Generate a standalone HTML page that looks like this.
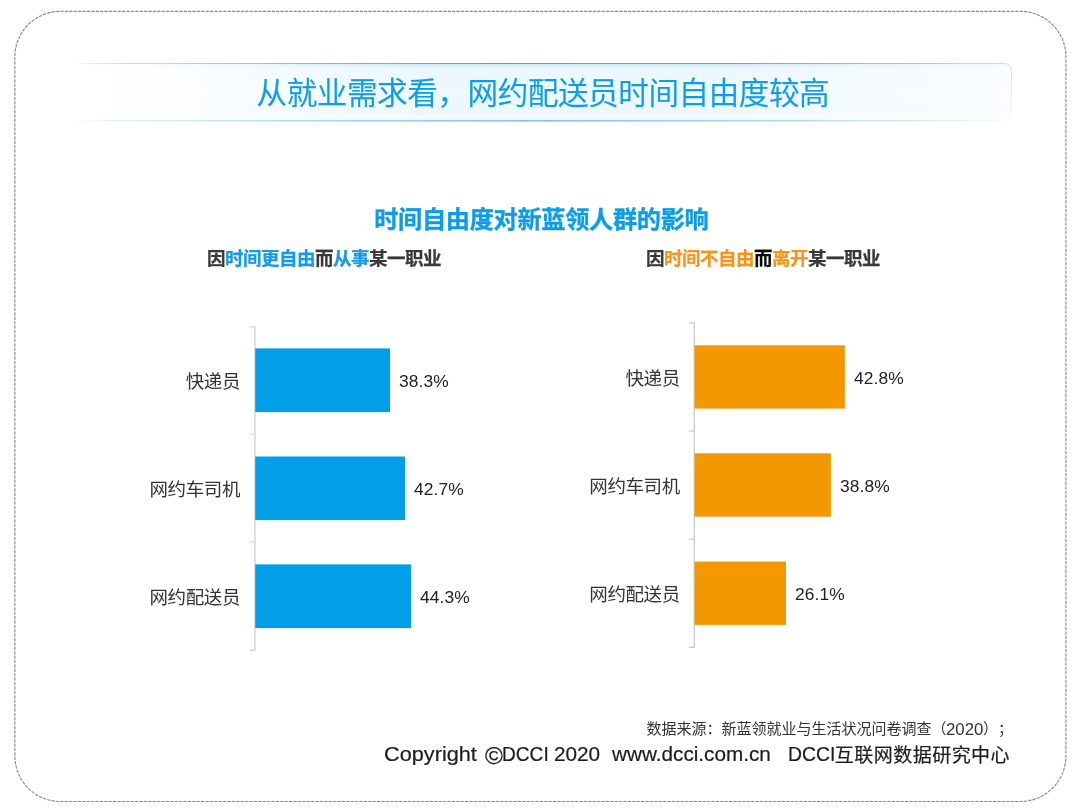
<!DOCTYPE html>
<html lang="zh-CN">
<head>
<meta charset="utf-8">
<title>从就业需求看，网约配送员时间自由度较高</title>
<style>
html,body{margin:0;padding:0;background:#fff;}
body{width:1080px;height:810px;position:relative;overflow:hidden;
  font-family:"Liberation Sans","Noto Sans CJK SC",sans-serif;color:#333;}
.abs{position:absolute;white-space:nowrap;}
#frame{position:absolute;left:0;top:0;}
#banner{position:absolute;left:72px;top:63px;width:940px;height:62px;}
#title{left:0;width:1085.8px;top:71px;text-align:center;font-size:30.6px;line-height:44px;
  letter-spacing:-0.45px;font-weight:350;color:#0c9de9;-webkit-text-stroke:0.25px #0c9de9;}
#ctitle{left:0;width:1082.6px;top:204px;text-align:center;font-size:24.2px;line-height:32px;
  letter-spacing:-0.32px;font-weight:700;color:#0c9ce9;-webkit-text-stroke:0.35px #0c9ce9;}
.sub{font-size:18.5px;line-height:26px;letter-spacing:-0.5px;font-weight:700;color:#383838;top:246px;-webkit-text-stroke:0.25px;}
.sub .b{color:#129be8;}
.sub .o{color:#f5961a;}
.sub .k{color:#0a0a0a;}
.lab{font-size:18.5px;line-height:26px;letter-spacing:-0.4px;text-align:right;width:120px;color:#333;margin-top:1.5px;}
.val{font-size:17.4px;line-height:22px;letter-spacing:0.12px;color:#222;margin-top:-0.3px;}
.sx{transform-origin:0 50%;}
.src{font-size:15px;line-height:40px;color:#333;top:709.2px;}
.cp{font-size:20.6px;line-height:40px;color:#1c1c1c;top:734.3px;-webkit-text-stroke:0.2px #1c1c1c;}
</style>
</head>
<body>
<svg id="frame" width="1080" height="810" viewBox="0 0 1080 810">
  <rect x="14.9" y="11.3" width="1051" height="790.2" rx="45.5" ry="45.5" fill="none" stroke="#8c8c8c" stroke-width="1.15" stroke-dasharray="3.3 1.1"/>
</svg>
<svg id="banner" width="940" height="62" viewBox="0 0 940 62">
  <defs>
    <linearGradient id="fade" x1="0" x2="1" y1="0" y2="0">
      <stop offset="0" stop-color="#fff" stop-opacity="1"/>
      <stop offset="0.1" stop-color="#fff" stop-opacity="0.85"/>
      <stop offset="0.2" stop-color="#fff" stop-opacity="0.55"/>
      <stop offset="0.32" stop-color="#fff" stop-opacity="0.15"/>
      <stop offset="0.42" stop-color="#fff" stop-opacity="0"/>
      <stop offset="0.68" stop-color="#fff" stop-opacity="0"/>
      <stop offset="0.82" stop-color="#fff" stop-opacity="0.4"/>
      <stop offset="1" stop-color="#fff" stop-opacity="0.75"/>
    </linearGradient>
    <linearGradient id="bg" x1="0" x2="0" y1="0" y2="1">
      <stop offset="0" stop-color="#cfe9f9"/>
      <stop offset="0.06" stop-color="#d8eefb"/>
      <stop offset="0.09" stop-color="#ebf6fe"/>
      <stop offset="0.5" stop-color="#eef8fe"/>
      <stop offset="0.86" stop-color="#ecf7fe"/>
      <stop offset="0.93" stop-color="#f5fbff"/>
      <stop offset="1" stop-color="#eaf6fd"/>
    </linearGradient>
    <linearGradient id="ltop" x1="0" x2="1" y1="0" y2="0">
      <stop offset="0" stop-color="#8e979d" stop-opacity="0"/>
      <stop offset="0.06" stop-color="#a9b6bf" stop-opacity="0.5"/>
      <stop offset="0.25" stop-color="#9aa6ae" stop-opacity="0.85"/>
      <stop offset="0.45" stop-color="#8a9196" stop-opacity="1"/>
      <stop offset="0.7" stop-color="#8f989e" stop-opacity="1"/>
      <stop offset="0.9" stop-color="#a9b6bf" stop-opacity="0.8"/>
      <stop offset="1" stop-color="#c5d0d8" stop-opacity="0.7"/>
    </linearGradient>
    <linearGradient id="lbot" x1="0" x2="1" y1="0" y2="0">
      <stop offset="0" stop-color="#9ad0e6" stop-opacity="0"/>
      <stop offset="0.08" stop-color="#b4dcec" stop-opacity="0.5"/>
      <stop offset="0.3" stop-color="#98cfe5" stop-opacity="0.9"/>
      <stop offset="0.5" stop-color="#86c5df" stop-opacity="1"/>
      <stop offset="0.75" stop-color="#a5d3e6" stop-opacity="0.9"/>
      <stop offset="0.92" stop-color="#cfdde4" stop-opacity="0.6"/>
      <stop offset="1" stop-color="#e0e6ea" stop-opacity="0.1"/>
    </linearGradient>
    <linearGradient id="lsh" x1="0" x2="1" y1="0" y2="0">
      <stop offset="0" stop-color="#c0c4c8" stop-opacity="0"/>
      <stop offset="0.3" stop-color="#c0c4c8" stop-opacity="0.5"/>
      <stop offset="0.5" stop-color="#b8bcc0" stop-opacity="0.7"/>
      <stop offset="0.8" stop-color="#c8ccd0" stop-opacity="0.4"/>
      <stop offset="1" stop-color="#c8ccd0" stop-opacity="0"/>
    </linearGradient>
    <linearGradient id="lright" x1="0" x2="0" y1="0" y2="1">
      <stop offset="0" stop-color="#c5d0d8" stop-opacity="0.7"/>
      <stop offset="0.6" stop-color="#d8e0e6" stop-opacity="0.5"/>
      <stop offset="1" stop-color="#e0e6ea" stop-opacity="0.1"/>
    </linearGradient>
  </defs>
  <path d="M0 0 H932 Q940 0 940 8 V50 Q940 58 932 58 H0 Z" fill="url(#bg)"/>
  <rect x="0" y="0" width="940" height="60" fill="url(#fade)"/>
  <rect x="0" y="58" width="932" height="1" fill="url(#lsh)"/>
  <rect x="0" y="57" width="932" height="1" fill="url(#lbot)"/>
  <rect x="0" y="0" width="932" height="1" fill="url(#ltop)"/>
  <path d="M932 0.5 Q939.5 0.5 939.5 8 V50 Q939.5 57.5 932 57.5" fill="none" stroke="url(#lright)" stroke-width="1"/>
</svg>
<div class="abs" id="title">从就业需求看，网约配送员时间自由度较高</div>
<div class="abs" id="ctitle">时间自由度对新蓝领人群的影响</div>

<div class="abs sub" style="left:207px;">因<span class="b">时间更自由</span>而<span class="b">从事</span>某一职业</div>
<div class="abs sub" style="left:646px;">因<span class="o">时间不自由</span><span class="k">而</span><span class="o">离开</span>某一职业</div>

<!-- charts -->
<svg class="abs" style="left:0;top:0" width="1080" height="810" viewBox="0 0 1080 810">
  <g fill="#d9d9d9">
    <rect x="254.15" y="326.2" width="1.6" height="324.6"/>
    <rect x="249.3" y="326.15" width="5" height="1.4"/>
    <rect x="249.3" y="433.6" width="5" height="1.2" fill="#dedede"/>
    <rect x="249.3" y="541.4" width="5" height="1.2" fill="#dedede"/>
    <rect x="249.3" y="649.7" width="5" height="1.1" fill="#c4c4c4"/>
  </g>
  <g fill="#c6c8cb">
    <rect x="693.65" y="322.3" width="1.3" height="325.5"/>
    <rect x="688.9" y="322.3" width="5" height="1.2"/>
    <rect x="688.9" y="430.4" width="5" height="1.2"/>
    <rect x="688.9" y="538.6" width="5" height="1.2"/>
    <rect x="688.9" y="646.7" width="5" height="1.1" fill="#bcbcbc"/>
  </g>
  <g fill="#009fe8">
    <rect x="255.2" y="348.4" width="134.8" height="63.7"/>
    <rect x="255.2" y="456.5" width="149.9" height="63.6"/>
    <rect x="255.2" y="564.4" width="155.9" height="63.7"/>
  </g>
  <g fill="#f39800">
    <rect x="694.6" y="345.3" width="150.3" height="63.3"/>
    <rect x="694.6" y="453.3" width="136.3" height="63.4"/>
    <rect x="694.6" y="561.6" width="91.4" height="63.3"/>
  </g>
</svg>
<div class="abs lab" style="left:120px;top:367px;">快递员</div>
<div class="abs lab" style="left:120px;top:475px;">网约车司机</div>
<div class="abs lab" style="left:120px;top:583px;">网约配送员</div>
<div class="abs val" style="left:399px;top:370px;">38.3%</div>
<div class="abs val" style="left:414px;top:478px;">42.7%</div>
<div class="abs val" style="left:420px;top:586px;">44.3%</div>

<div class="abs lab" style="left:559.8px;top:364px;">快递员</div>
<div class="abs lab" style="left:559.8px;top:472px;">网约车司机</div>
<div class="abs lab" style="left:559.8px;top:580px;">网约配送员</div>
<div class="abs val" style="left:854px;top:367px;">42.8%</div>
<div class="abs val" style="left:840px;top:475px;">38.8%</div>
<div class="abs val" style="left:795px;top:583px;">26.1%</div>

<!-- footer -->
<div class="abs src" style="left:646.4px;">数据来源：新蓝领就业与生活状况问卷调查（</div>
<div class="abs src sx" style="left:946.25px;top:709.8px;font-size:16px;transform:scaleX(1.05);">2020</div>
<div class="abs src" style="left:983px;">）</div>
<div class="abs src" style="left:998px;">；</div>
<div class="abs cp sx" style="left:383.9px;transform:scaleX(1.054);">Copyright</div>
<div class="abs cp sx" style="left:485px;font-size:24.3px;margin-top:1.5px;">©</div>
<div class="abs cp sx" style="left:502.1px;transform:scaleX(0.928);">DCCI</div>
<div class="abs cp sx" style="left:554px;transform:scaleX(1.007);">2020</div>
<div class="abs cp sx" style="left:612.4px;transform:scaleX(1.006);">www.dcci.com.cn</div>
<div class="abs cp sx" style="left:787.5px;transform:scaleX(0.939);">DCCI</div>
<div class="abs cp" style="left:834.8px;top:736.4px;font-size:19px;letter-spacing:0.475px;">互联网数据研究中心</div>
</body>
</html>
